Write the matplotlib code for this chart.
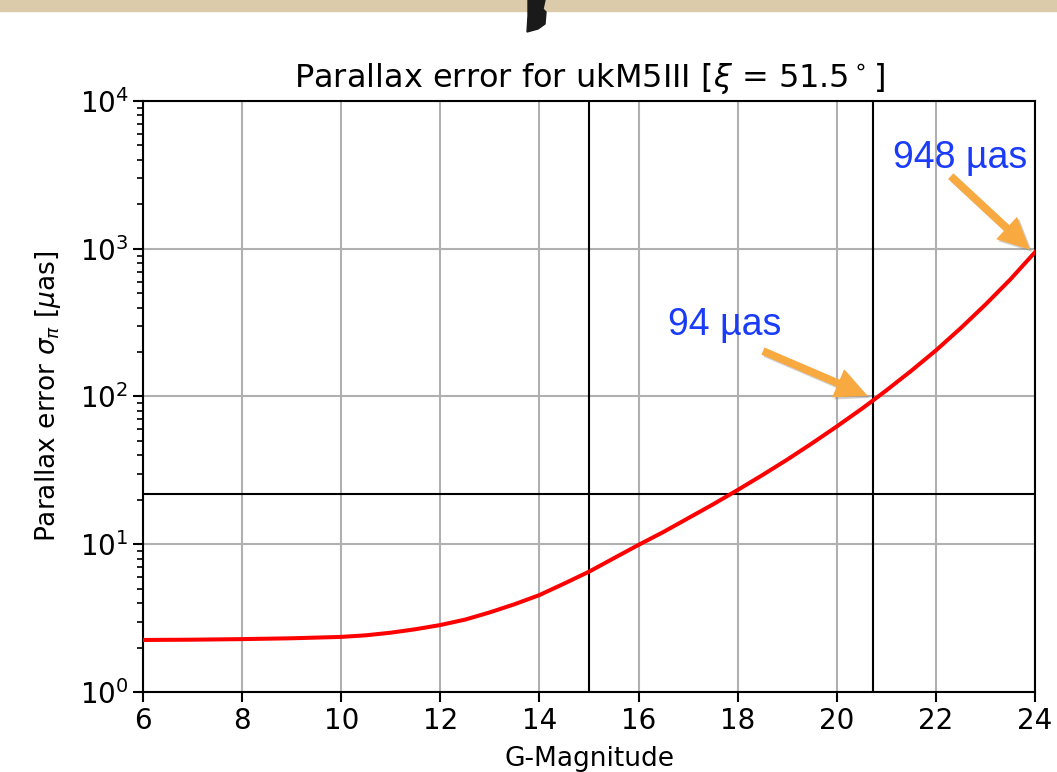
import numpy as np
import matplotlib
matplotlib.use("Agg")
import matplotlib.pyplot as plt
import matplotlib.patheffects as pe
from matplotlib.patches import Rectangle, Polygon

# Parallax error curve
g_mag = [6, 7, 8, 9, 10, 10.5, 11, 11.5, 12, 12.5, 13, 13.5, 14, 14.5, 15, 15.5, 16, 16.5, 17, 17.5,
         18, 18.5, 19, 19.5, 20, 20.5, 20.73, 21, 21.5, 22, 22.5, 23, 23.5, 24]
sigma_pi = [2.25, 2.26, 2.28, 2.31, 2.36, 2.42, 2.52, 2.66, 2.84, 3.09, 3.46, 3.93, 4.53, 5.42, 6.52,
            8.04, 9.9, 12.1, 15.0, 18.6, 23.3, 29.4, 37.4, 48.2, 62.7, 82.4, 94, 110, 149, 205, 290,
            419, 619, 948]

# reference lines
vlines = [15, 20.73]
hline = 22

# annotations
labels = ["948 µas", "94 µas"]
label_pos = [(21.13, 3500), (16.59, 260)]
arrow_tail = [(22.30, 3100), (18.51, 203)]
arrow_tip = [(23.90, 985), (20.62, 101)]

fig = plt.figure(figsize=(10.57, 7.72), dpi=100)
ax = fig.add_axes([143/1057, 80/772, 892/1057, 591/772])

ax.plot(g_mag, sigma_pi, color='red', lw=2.9, zorder=3)
for v in vlines:
    ax.axvline(v, color='black', lw=1.5, zorder=2)
ax.axhline(hline, color='black', lw=1.5, zorder=2)

ax.set_yscale('log')
ax.set_xlim(6, 24)
ax.set_ylim(1, 1e4)
ax.set_xticks([6, 8, 10, 12, 14, 16, 18, 20, 22, 24])
ax.grid(True, which='major', color='#b0b0b0', lw=1.5)
ax.tick_params(which='major', labelsize=20, length=7, width=1.5)
ax.tick_params(which='minor', length=4, width=1.2)
for s in ax.spines.values():
    s.set_linewidth(1.5)

ax.set_title(r"Parallax error for ukM5III [$\xi$ = 51.5$^\circ$]", fontsize=23, pad=10)
ax.set_xlabel("G-Magnitude", fontsize=19, labelpad=8)
ax.set_ylabel(r"Parallax error $\sigma_\pi$ [$\mu$as]", fontsize=19, labelpad=12)

shadow = [pe.SimplePatchShadow(offset=(1.5, -1.5), shadow_rgbFace='#777777', alpha=0.35), pe.Normal()]
for txt, pos, tail, tip in zip(labels, label_pos, arrow_tail, arrow_tip):
    ax.text(pos[0], pos[1], txt, color='#1a3cfa', fontsize=27,
            family=['Liberation Sans', 'DejaVu Sans'], zorder=5)
    ax.annotate('', xy=tip, xytext=tail,
                arrowprops=dict(arrowstyle='simple,head_length=1.15,head_width=1.1,tail_width=0.28',
                                mutation_scale=20, color='#f8aa40', lw=0,
                                shrinkA=0, shrinkB=0, path_effects=shadow),
                zorder=5)

# beige paper strip and smudge at the top of the photo
fig.patches.append(Rectangle((0, 1 - 11/772), 1, 11/772, transform=fig.transFigure,
                             color='#dccbaa', zorder=0))
blob = [(528, 0), (545, 0), (543, 9), (546, 12), (545, 24), (538, 29), (527, 32), (528, 16)]
fig.patches.append(Polygon([(x/1057, 1 - y/772) for x, y in blob], closed=True,
                           transform=fig.transFigure, color='#1a1a1a', zorder=1))

fig.savefig("out.png", dpi=100)
